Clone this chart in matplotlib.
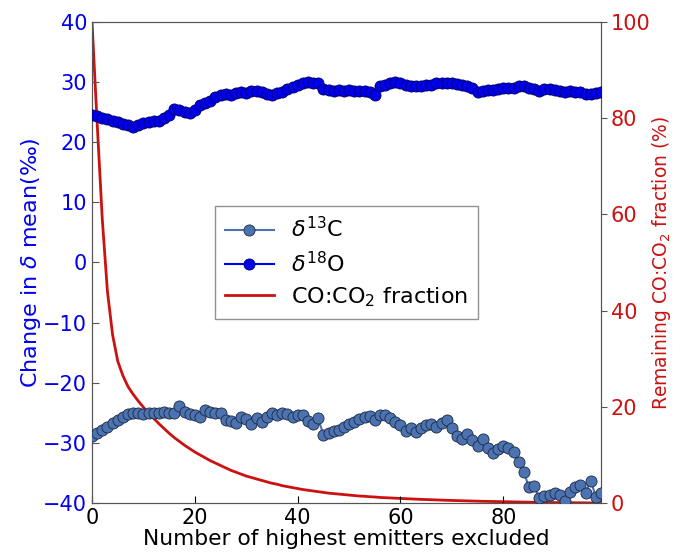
import matplotlib
matplotlib.use("Agg")
import matplotlib.pyplot as plt
import numpy as np

# number of highest emitters excluded
n_excluded = list(range(100))

d18O = [24.6, 24.4, 24.1, 23.9, 23.6, 23.4, 23.1, 22.8, 22.5, 22.9,
        23.2, 23.4, 23.5, 23.6, 24.0, 24.6, 25.6, 25.4, 25.1, 24.9,
        25.4, 26.2, 26.5, 26.9, 27.5, 27.9, 28.1, 27.9, 28.2, 28.3,
        28.2, 28.5, 28.6, 28.3, 28.1, 27.9, 28.2, 28.4, 28.8, 29.2,
        29.5, 29.9, 30.0, 29.8, 29.9, 28.8, 28.7, 28.6, 28.7, 28.6,
        28.7, 28.6, 28.6, 28.5, 28.3, 27.9, 29.4, 29.6, 29.9, 30.1,
        29.9, 29.6, 29.4, 29.3, 29.3, 29.5, 29.6, 29.8, 29.9, 29.9,
        29.8, 29.7, 29.6, 29.3, 29.0, 28.4, 28.6, 28.7, 28.7, 28.9,
        29.0, 29.1, 29.1, 29.3, 29.3, 29.0, 28.8, 28.6, 28.8, 28.9,
        28.7, 28.5, 28.4, 28.6, 28.3, 28.4, 28.1, 28.0, 28.2, 28.4]

d13C = [-28.8, -28.4, -27.9, -27.3, -26.7, -26.2, -25.7, -25.2, -25.0, -25.1,
        -25.2, -25.0, -25.1, -25.0, -24.9, -25.0, -25.0, -23.9, -24.9, -25.2,
        -25.4, -25.7, -24.6, -24.8, -25.0, -25.1, -26.2, -26.3, -26.7, -25.7,
        -26.1, -26.8, -25.9, -26.5, -25.7, -25.0, -25.3, -25.1, -25.2, -25.7,
        -25.4, -25.4, -26.3, -26.8, -25.9, -28.7, -28.4, -28.1, -27.8, -27.3,
        -26.9, -26.5, -26.0, -25.7, -25.6, -26.2, -25.4, -25.3, -25.9, -26.5,
        -27.0, -28.0, -27.5, -28.2, -27.6, -27.1, -26.8, -27.4, -26.7, -26.2,
        -27.6, -28.9, -29.3, -28.6, -29.6, -30.5, -29.3, -30.9, -31.7, -31.0,
        -30.5, -30.8, -31.6, -33.2, -34.9, -37.4, -37.2, -39.2, -38.9, -38.6,
        -38.4, -38.7, -39.6, -38.1, -37.4, -37.0, -38.3, -36.3, -39.0, -38.3]

co_fraction = [100, 79, 59, 44, 35, 29.5, 26.5, 24.2, 22.6, 21.2,
               19.9, 18.7, 17.6, 16.5, 15.5, 14.5, 13.6, 12.8, 12.0, 11.3,
               10.6, 10.0, 9.4, 8.8, 8.3, 7.8, 7.3, 6.8, 6.4, 6.0,
               5.6, 5.3, 5.0, 4.7, 4.4, 4.1, 3.9, 3.6, 3.4, 3.2,
               3.0, 2.8, 2.65, 2.5, 2.35, 2.2, 2.05, 1.95, 1.85, 1.75,
               1.65, 1.55, 1.45, 1.4, 1.3, 1.25, 1.15, 1.1, 1.05, 1.0,
               0.95, 0.9, 0.85, 0.8, 0.75, 0.72, 0.68, 0.64, 0.6, 0.56,
               0.53, 0.5, 0.47, 0.44, 0.41, 0.38, 0.35, 0.33, 0.31, 0.29,
               0.27, 0.25, 0.23, 0.21, 0.19, 0.17, 0.15, 0.13, 0.12, 0.1,
               0.09, 0.08, 0.07, 0.06, 0.05, 0.04, 0.03, 0.02, 0.01, 0.0]

blue = '#0000ee'
red = '#cc1111'
spine_col = '#555555'

fig = plt.figure(figsize=(6.75, 5.55), dpi=100)
ax = fig.add_axes([0.1363, 0.0937, 0.7541, 0.8667])
ax2 = ax.twinx()

l1, = ax.plot(n_excluded, d13C, '-o', color='#4c72b0', lw=1.5, ms=8,
              mec='#1a2a44', mew=0.6, label=r'$\delta^{13}$C', zorder=3)
l2, = ax.plot(n_excluded, d18O, '-o', color=blue, lw=1.5, ms=8,
              mec='#000066', mew=0.6, label=r'$\delta^{18}$O', zorder=3)
l3, = ax2.plot(n_excluded, co_fraction, '-', color=red, lw=2,
               label=r'CO:CO$_2$ fraction')

ax.set_xlim(0, 99)
ax.set_ylim(-40, 40)
ax2.set_ylim(0, 100)
ax.set_xticks([0, 20, 40, 60, 80])
ax.set_yticks(np.arange(-40, 41, 10))
ax2.set_yticks([0, 20, 40, 60, 80, 100])

ax.set_xlabel('Number of highest emitters excluded', fontsize=15.7, labelpad=1)
ax.set_ylabel(r'Change in $\delta$ mean(‰)', fontsize=16, color=blue, labelpad=0)
ax2.set_ylabel(r'Remaining CO:CO$_2$ fraction (%)', fontsize=13.5, color=red, labelpad=0)

ax.tick_params(axis='x', direction='in', length=5, labelsize=15, colors='black')
ax.tick_params(axis='y', direction='in', length=5, labelsize=15, labelcolor=blue,
               color=spine_col)
ax2.tick_params(axis='y', direction='out', length=4, pad=3, labelsize=15,
                labelcolor=red, color=spine_col)

for a in (ax, ax2):
    for s in a.spines.values():
        s.set_color(spine_col)

# keep the markers above the red line
ax.set_zorder(ax2.get_zorder() + 1)
ax.patch.set_visible(False)

leg = ax.legend([l1, l2, l3], [l1.get_label(), l2.get_label(), l3.get_label()],
                loc='center', fontsize=16, fancybox=False, frameon=True,
                numpoints=1, handlelength=2.2, borderpad=0.45, labelspacing=0.42)
leg.get_frame().set_edgecolor('#777777')
leg.get_frame().set_linewidth(1)

fig.savefig('out.png', dpi=100)
